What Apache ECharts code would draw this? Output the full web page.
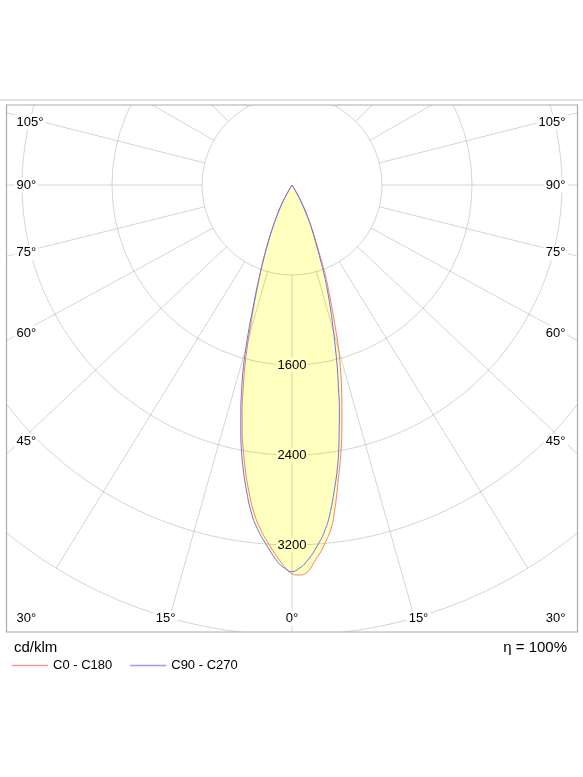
<!DOCTYPE html>
<html>
<head>
<meta charset="utf-8">
<script src="https://cdn.jsdelivr.net/npm/echarts@6/dist/echarts.min.js"></script>
<style>
html,body{margin:0;padding:0;background:#fff;}
#chart{width:583px;height:777px;}
</style>
</head>
<body>
<div id="chart"></div>
<script>
// ---- data: gamma = degrees away from nadir, values in cd/klm ----
// C0 half (red, right side)
const c0Gamma   = [0, 0.7, 1.3, 2.0, 2.7, 3.4, 4.3, 5.1, 6.5, 7.4, 8.2, 8.9, 9.7, 10.5, 11.5, 12.5, 13.6, 14.7, 15.8, 16.8, 17.9, 19.2, 20.3, 21.3, 22.6, 24.4, 26.6, 28.4, 30.1, 32];
const c0Cd      = [3456, 3467, 3467, 3454, 3417, 3354, 3285, 3213, 3071, 2928, 2784, 2654, 2525, 2396, 2223, 2049, 1875, 1700, 1524, 1346, 1168, 988, 853, 716, 578, 439, 298, 202, 103, 0];
// C180 half (red, left side)
const c180Gamma = [0, 0.4, 0.9, 1.7, 3.6, 5.3, 6.7, 8.1, 9.3, 10.4, 11.5, 12.5, 13.4, 14.4, 15.3, 16.2, 17.3, 18.5, 19.6, 20.8, 22.2, 24.0, 26.1, 27.9, 29.7, 32];
const c180Cd    = [3456, 3440, 3410, 3352, 3206, 3065, 2924, 2738, 2567, 2395, 2222, 2049, 1874, 1698, 1520, 1342, 1163, 984, 849, 713, 576, 438, 297, 201, 102, 0];
// C90 half (blue, right side)
const c90Gamma  = [0, 1.05, 2.2, 4.1, 5.6, 6.7, 7.9, 9.0, 10.0, 10.9, 11.9, 12.8, 13.8, 14.8, 15.9, 17.2, 18.6, 19.7, 20.8, 22.1, 24.0, 26.1, 27.7, 29.7, 32];
const c90Cd     = [3437, 3409, 3351, 3208, 3066, 2924, 2737, 2565, 2392, 2218, 2044, 1869, 1693, 1517, 1340, 1163, 985, 850, 713, 576, 438, 297, 201, 102, 0];
// C270 half (blue, left side)
const c270Gamma = [0, 1.05, 2.2, 4.05, 5.8, 7.15, 8.5, 9.7, 10.8, 11.8, 12.8, 13.8, 14.8, 15.7, 16.6, 17.5, 18.7, 19.7, 21.0, 22.4, 24.1, 26.3, 28.2, 29.7, 32];
const c270Cd    = [3437, 3409, 3351, 3208, 3067, 2927, 2741, 2570, 2398, 2225, 2051, 1876, 1701, 1524, 1345, 1165, 986, 850, 714, 577, 438, 297, 202, 102, 0];
// radial tick labels shown along the 0° ray
const radiusTicks = [1600, 2400, 3200];
// grid rays as drawn (degrees from nadir) and their tick labels
const gridAngles = [0, 15.8, 31.6, 46.7, 61.4, 76, 90, 104.2, 119.8, 135, 150, 165, 180];
const angleTickLabels = ['0°', '15°', '30°', '45°', '60°', '75°', '90°', '105°'];
const seriesNames = ['C0 - C180', 'C90 - C270'];
const unitText = 'cd/klm';
const effText = 'η = 100%';

// ---- styling ----
const FONT = "'Liberation Sans', Arial, sans-serif";
const GRID = 'rgba(0,0,0,0.17)';
const FILL = '#ffffc0';
const RED = '#ef806e';
const BLUE = '#7070e8';
const RED_KEY = '#f29696';
const BLUE_KEY = '#9a9af0';
const SMOOTH = 0.5;

// polar point list [radius, angle]; angle axis 0..360 with 0 at nadir, right half positive
function plane(rg, rv, lg, lv) {
  const pts = [];
  for (let i = lg.length - 1; i >= 1; i--) pts.push([lv[i], 360 - lg[i]]);
  pts.push([rv[0], 0]);
  for (let i = 1; i < rg.length; i++) pts.push([rv[i], rg[i]]);
  return pts;
}
const redPts = plane(c0Gamma, c0Cd, c180Gamma, c180Cd);
const bluePts = plane(c90Gamma, c90Cd, c270Gamma, c270Cd);

const chart = echarts.init(document.getElementById('chart'), null, {renderer: 'canvas'});

const gridSeries = [];
gridAngles.forEach(g => {
  const sides = (g === 0 || g === 180) ? [g] : [g, 360 - g];
  sides.forEach(a => {
    gridSeries.push({
      type: 'line', coordinateSystem: 'polar', name: 'grid',
      data: [[800, a], [6000, a]],
      z: 2, silent: true, symbol: 'none', showSymbol: false, clip: false,
      lineStyle: {color: GRID, width: 1}
    });
  });
});

const fillSeries = [redPts, bluePts].map(pts => ({
  type: 'line', coordinateSystem: 'polar', name: 'fill', data: pts,
  z: 1, silent: true, symbol: 'none', showSymbol: false, smooth: SMOOTH, clip: false,
  lineStyle: {width: 0, opacity: 0}, areaStyle: {color: FILL, opacity: 1}
}));

const option = {
  animation: false,
  polar: {center: [292, 185], radius: [0, 450]},
  angleAxis: {
    type: 'value', min: 0, max: 360, startAngle: -90, clockwise: false,
    axisLine: {show: false}, axisTick: {show: false}, axisLabel: {show: false},
    splitLine: {show: false}, splitArea: {show: false}
  },
  radiusAxis: {
    type: 'value', min: 0, max: 4000, interval: 800, z: 3,
    axisLine: {show: false}, axisTick: {show: false},
    splitLine: {show: true, lineStyle: {color: GRID, width: 1}},
    splitArea: {show: false},
    axisLabel: {
      margin: 0, align: 'center', verticalAlign: 'middle', showMinLabel: true, showMaxLabel: true,
      formatter: v => radiusTicks.includes(v) ? '{b|' + v + '}' : '',
      rich: {b: {backgroundColor: FILL, padding: [1, 1], fontSize: 13, color: '#000', fontFamily: FONT}}
    }
  },
  legend: {
    left: 7, top: 654, z: 20, itemWidth: 36, itemHeight: 1.5, itemGap: 18, icon: 'rect',
    selectedMode: false,
    textStyle: {fontSize: 13, color: '#000', fontFamily: FONT},
    data: [
      {name: seriesNames[0], inactiveColor: RED_KEY, itemStyle: {color: RED_KEY, borderColor: RED_KEY, borderWidth: 0, opacity: 1}},
      {name: seriesNames[1], inactiveColor: BLUE_KEY, itemStyle: {color: BLUE_KEY, borderColor: BLUE_KEY, borderWidth: 0, opacity: 1}}
    ]
  },
  series: [
    ...fillSeries,
    ...gridSeries,
    {
      type: 'line', coordinateSystem: 'polar', name: seriesNames[0], data: redPts,
      z: 4, silent: true, symbol: 'none', showSymbol: false, smooth: SMOOTH, clip: false,
      color: RED, itemStyle: {color: RED}, lineStyle: {color: RED, width: 1}
    },
    {
      type: 'line', coordinateSystem: 'polar', name: seriesNames[1], data: bluePts,
      z: 4, silent: true, symbol: 'none', showSymbol: false, smooth: SMOOTH, clip: false,
      color: BLUE, itemStyle: {color: BLUE}, lineStyle: {color: BLUE, width: 1}
    }
  ]
};
chart.setOption(option);

// ---- frame, masks and angle labels positioned from the polar scale ----
const P = (r, a) => chart.convertToPixel({polarIndex: 0}, [r, a]);
const ctr = P(0, 0);
const frame = {x: 6.5, y: 105, w: 571, h: 527};
// where label anchors are sampled on each ray, and the label row/column limits
const inset = {left: 20, right: 564, bottom: 632, row: 618, top: 122, textLeft: 14.5, textRight: 567.5};
const labelStyle = {fill: '#000', font: '13px ' + FONT, backgroundColor: '#fff', padding: [1, 2], verticalAlign: 'middle'};
const graphics = [
  {type: 'rect', z: 10, silent: true, shape: {x: 0, y: 0, width: 583, height: frame.y}, style: {fill: '#fff'}},
  {type: 'rect', z: 10, silent: true, shape: {x: 0, y: frame.y + frame.h, width: 583, height: 777 - frame.y - frame.h}, style: {fill: '#fff'}},
  {type: 'rect', z: 10, silent: true, shape: {x: 0, y: 0, width: frame.x, height: 777}, style: {fill: '#fff'}},
  {type: 'rect', z: 10, silent: true, shape: {x: frame.x + frame.w, y: 0, width: 583 - frame.x - frame.w, height: 777}, style: {fill: '#fff'}},
  {type: 'rect', z: 11, silent: true, shape: {x: 0, y: 99, width: 583, height: 2}, style: {fill: '#e3e3e3'}},
  {type: 'rect', z: 11, silent: true, shape: {x: frame.x, y: frame.y, width: frame.w, height: frame.h}, style: {fill: 'none', stroke: '#ababab', lineWidth: 1.2}},
  {type: 'text', z: 12, silent: true, x: 14, y: 648, style: {text: unitText, fill: '#000', font: '15px ' + FONT, align: 'left', verticalAlign: 'middle'}},
  {type: 'text', z: 12, silent: true, x: 567, y: 648, style: {text: effText, fill: '#000', font: '15px ' + FONT, align: 'right', verticalAlign: 'middle'}}
];
angleTickLabels.forEach((txt, i) => {
  const g = gridAngles[i];
  const sides = g === 0 ? [g] : [g, 360 - g];
  sides.forEach(a => {
    const q = P(4000, a);
    const dx = q[0] - ctr[0], dy = q[1] - ctr[1];
    const tB = dy > 1e-6 ? (inset.bottom - ctr[1]) / dy : Infinity;
    let tS = Infinity;
    if (Math.abs(dx) > 1e-6) { const xs = dx < 0 ? inset.left : inset.right; tS = (xs - ctr[0]) / dx; }
    let x, y, align;
    if (tS < tB) {
      y = Math.min(Math.max(ctr[1] + dy * tS, inset.top), inset.row);
      x = dx < 0 ? inset.textLeft : inset.textRight;
      align = dx < 0 ? 'left' : 'right';
    } else {
      x = ctr[0] + dx * tB; y = inset.row; align = 'center';
    }
    graphics.push({type: 'text', z: 12, silent: true, x: x, y: y,
      style: Object.assign({}, labelStyle, {text: txt, align: align})});
  });
});
chart.setOption({graphic: graphics});
</script>
</body>
</html>
